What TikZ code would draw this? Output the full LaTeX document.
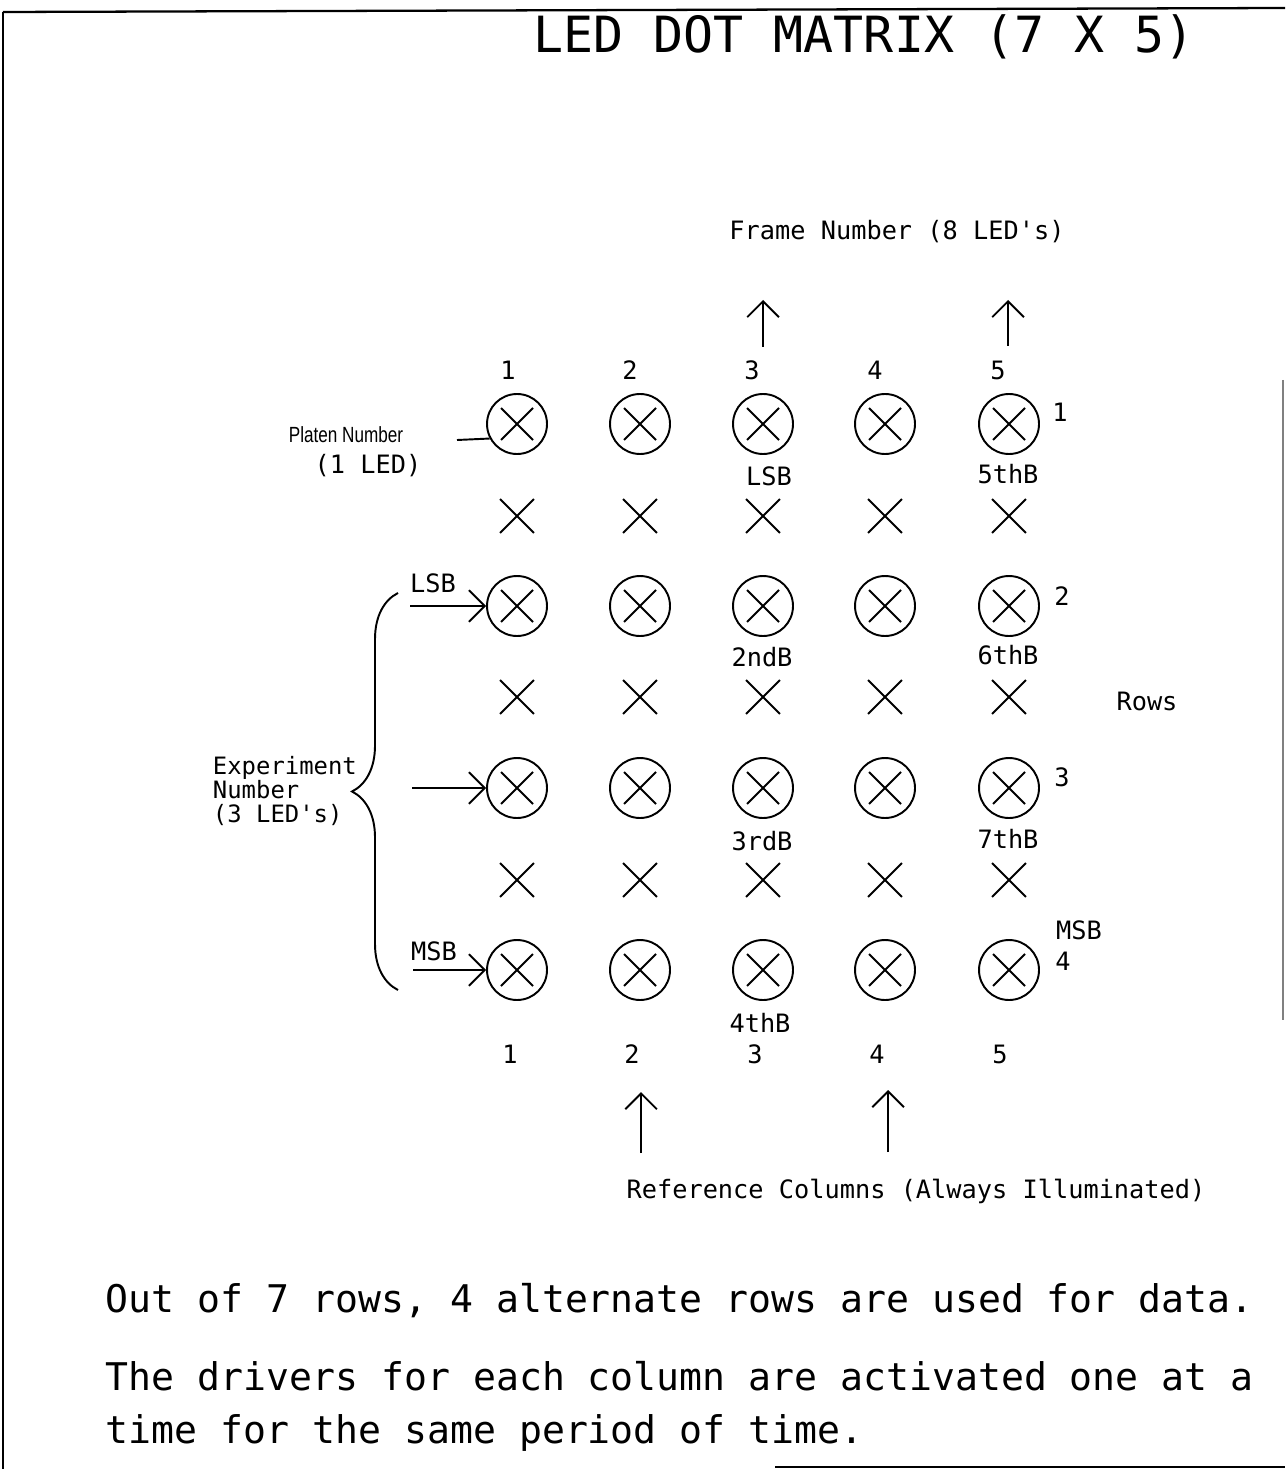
\documentclass[tikz,border=0pt]{standalone}
\usepackage{fontspec}
\usepackage{tikz}
\usetikzlibrary{positioning,arrows.meta,shapes.misc,decorations.pathreplacing}
\newfontfamily\plotfont{DejaVu Sans Mono}
\newfontfamily\narrowfont[FakeStretch=0.78]{Liberation Sans}

\begin{document}
\begin{tikzpicture}[
  x=0.02cm,y=-0.02cm,
  line width=1.1pt,
  every node/.style={inner sep=0pt,font=\plotfont\fontsize{14.4}{12.6}\selectfont},
  led/.style={circle,draw,minimum size=1.2cm,
    path picture={\draw (path picture bounding box.center)
      ++(-16,-16) -- ++(32,32) ++(0,-32) -- ++(-32,32);}},
  xmark/.style={cross out,draw,minimum size=0.64cm},
  arr/.style={-{Straight Barb[length=9pt,width=18pt]}},
  lbl/.style={anchor=base},
  note/.style={anchor=base west,font=\plotfont\fontsize{21.7}{24}\selectfont},
  border/.style={line width=1.3pt}
]
\useasboundingbox (0,0) rectangle (1285,1469);

% frame of the sheet
\draw[border] (3,12) -- (1285,8);
\draw[border] (3,12) -- (3,1469);
\draw[gray,line width=0.6pt] (1283,380) -- (1283,1020);
\draw[border] (775,1467) -- (1285,1467);

\node[lbl,font=\plotfont\fontsize{28.4}{30}\selectfont] (title) at (864,53) {LED DOT MATRIX (7 X 5)};

% LEDs and the unused rows
\foreach \c/\x in {1/517,2/640,3/763,4/885,5/1009}{
  \foreach \r/\y in {1/424,2/606,3/788,4/970}
    \node[led] (c\c\r) at (\x,\y) {};
  \foreach \r/\y in {1/516,2/697,3/880}
    \node[xmark] (x\c\r) at (\x,\y) {};
}

% column and row numbers
\foreach \c/\x in {1/508,2/630,3/752,4/875,5/998}
  \node[lbl] (t\c) at (\x,379) {\c};
\foreach \c/\x in {1/510,2/632,3/755,4/877,5/1000}
  \node[lbl] (b\c) at (\x,1063) {\c};
\node[lbl] (r1) at (1060,421) {1};
\node[lbl] (r2) at (1062,605) {2};
\node[lbl] (r3) at (1062,786) {3};
\node[lbl] (r4) at (1063,970) {4};
\node[lbl] (msbr) at (1079,939) {MSB};
\node[lbl] (rows) at (1147,710) {Rows};

% bits of the frame number
\node[lbl] (bit1) at (769,485) {LSB};
\node[lbl] (bit2) at (762,666) {2ndB};
\node[lbl] (bit3) at (762,850) {3rdB};
\node[lbl] (bit4) at (760,1032) {4thB};
\node[lbl] (bit5) at (1008,483) {5thB};
\node[lbl] (bit6) at (1008,664) {6thB};
\node[lbl] (bit7) at (1008,848) {7thB};

% frame number
\node[lbl] (frame) at (897,240) {Frame Number (8 LED's)};
\coordinate (fa3) at (763,347); \coordinate (fa3t) at (763,300);
\coordinate (fa5) at (1008,346); \coordinate (fa5t) at (1008,300);
\draw[arr] (fa3) -- (fa3t);
\draw[arr] (fa5) -- (fa5t);

% platen number
\node[lbl,font=\narrowfont\fontsize{12.5}{14}\selectfont] (platen) at (346,442) {Platen Number};
\node[lbl] (platenled) at (368,473) {(1 LED)};
\coordinate (pl) at (457,440);
\draw (pl) -- (c11.208);

% experiment number
\node[anchor=west,align=left,font=\plotfont\fontsize{13.6}{13.4}\selectfont] (exper) at (212,791) {Experiment\\Number\\(3 LED's)};
\coordinate (brb) at (398,990); \coordinate (brt) at (398,593);
\draw[decorate,decoration={brace,amplitude=0.92cm}] (brb) -- (brt);
\node[lbl] (lsb) at (433,592) {LSB};
\node[lbl] (msb) at (434,960) {MSB};
\coordinate (e2) at (410,606);
\coordinate (e3) at (412,788);
\coordinate (e4) at (413,970);
\draw[arr] (e2) -- (c12);
\draw[arr] (e3) -- (c13);
\draw[arr] (e4) -- (c14);

% reference columns
\node[lbl] (refcol) at (916,1198) {Reference Columns (Always Illuminated)};
\coordinate (ra2) at (641,1153); \coordinate (ra2t) at (641,1092);
\coordinate (ra4) at (888,1152); \coordinate (ra4t) at (888,1090);
\draw[arr] (ra2) -- (ra2t);
\draw[arr] (ra4) -- (ra4t);

% notes
\node[note] (n1) at (105,1312) {Out of 7 rows, 4 alternate rows are used for data.};
\node[note] (n2) at (105,1390) {The drivers for each column are activated one at a};
\node[note] (n3) at (105,1443) {time for the same period of time.};
\end{tikzpicture}
\end{document}
